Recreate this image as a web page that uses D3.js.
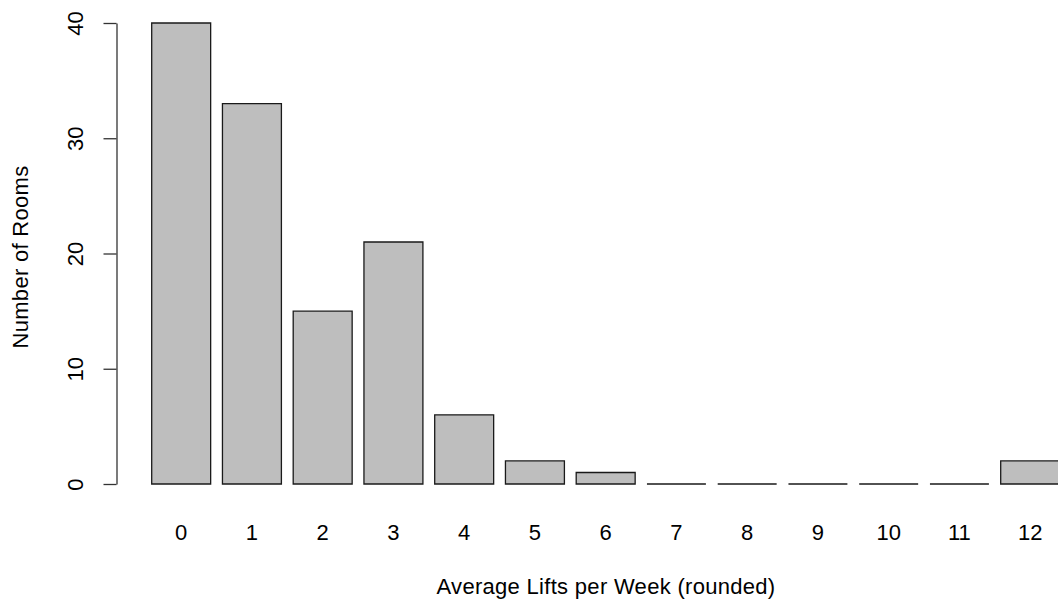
<!DOCTYPE html>
<html>
<head>
<meta charset="utf-8">
<script src="https://cdn.jsdelivr.net/npm/d3@7"></script>
<style>
  html, body { margin: 0; padding: 0; background: #fff; }
  svg { display: block; }
  text { font-family: "Liberation Sans", Arial, sans-serif; fill: #000; }
</style>
</head>
<body>
<svg id="chart" width="1058" height="601"></svg>
<script>
// Rooms counted by average lifts per week (rounded)
const categories = ["0", "1", "2", "3", "4", "5", "6", "7", "8", "9", "10", "11", "12"];
const roomCounts = [40, 33, 15, 21, 6, 2, 1, 0, 0, 0, 0, 0, 2];
const yTicks = [0, 10, 20, 30, 40];
const xTitle = "Average Lifts per Week (rounded)";
const yTitle = "Number of Rooms";

const svg = d3.select("#chart");
const FS = "22px";
const LS = "0.3px";

// bar width 1, gap 0.2 -> inner padding of 0.2/1.2
const step = 70.75;
const x = d3.scaleBand()
  .domain(categories)
  .range([151.7, 151.7 + step * (categories.length - 1 / 6)])
  .paddingInner(1 / 6)
  .paddingOuter(0);

const y = d3.scaleLinear().domain([0, 40]).range([484, 23]);

// bars as closed outlines so empty categories still show a baseline stroke
svg.append("g")
  .selectAll("path")
  .data(categories.map((c, i) => ({ c, v: roomCounts[i] })))
  .join("path")
  .attr("d", d => {
    const x0 = x(d.c), x1 = x0 + x.bandwidth();
    const y0 = y(0), y1 = y(d.v);
    return `M${x0},${y0}H${x1}V${y1}H${x0}Z`;
  })
  .attr("fill", "#bebebe")
  .attr("stroke", "#1a1a1a")
  .attr("stroke-width", 1.3);

// y axis
const yAxis = svg.append("g")
  .attr("transform", "translate(116.5,0)")
  .call(d3.axisLeft(y).tickValues(yTicks).tickSize(13).tickSizeOuter(0).tickFormat(d3.format("d")));
yAxis.select(".domain").attr("stroke", "#333").attr("stroke-width", 1.3);
yAxis.selectAll(".tick line").attr("stroke", "#333").attr("stroke-width", 1.3);
yAxis.selectAll(".tick text")
  .attr("x", 0).attr("y", 0).attr("dy", null)
  .attr("text-anchor", "middle")
  .attr("transform", "translate(-33.5,0) rotate(-90)")
  .style("font-size", FS)
  .style("font-family", "'Liberation Sans', Arial, sans-serif")
  .attr("fill", "#000");

// category labels under the bars
svg.append("g")
  .selectAll("text")
  .data(categories)
  .join("text")
  .attr("x", d => x(d) + x.bandwidth() / 2)
  .attr("y", 540)
  .attr("text-anchor", "middle")
  .style("font-size", FS)
  .text(d => d);

// axis titles
svg.append("text")
  .attr("x", 606)
  .attr("y", 594)
  .attr("text-anchor", "middle")
  .style("font-size", FS)
  .style("letter-spacing", LS)
  .text(xTitle);

svg.append("text")
  .attr("transform", "translate(28,257) rotate(-90)")
  .attr("text-anchor", "middle")
  .style("font-size", FS)
  .style("letter-spacing", LS)
  .text(yTitle);
</script>
</body>
</html>
